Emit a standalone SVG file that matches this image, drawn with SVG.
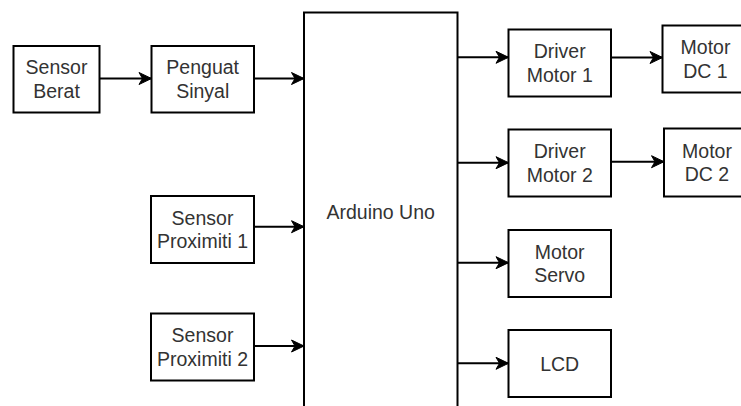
<svg xmlns="http://www.w3.org/2000/svg" width="741" height="406" viewBox="0 0 741 406">
<style>
.box{fill:#fff;stroke:#000;stroke-width:2}
.t{font-family:"Liberation Sans",Arial,sans-serif;font-size:19.5px;fill:#333;text-anchor:middle}
.c{stroke:#000;stroke-width:2;fill:none;marker-end:url(#arr)}
</style>
<defs>
<marker id="arr" markerUnits="userSpaceOnUse" markerWidth="15" markerHeight="14" refX="13.5" refY="7" orient="auto">
<path d="M1,1 L13.5,7 L1,13 L4.5,7 z" fill="#000" stroke="#000" stroke-width="1"/>
</marker>
</defs>
<rect width="741" height="406" fill="#fff"/>
<g id="arduino"><rect class="box" x="304" y="12.5" width="153.5" height="400"/><text class="t" x="380.7" y="218.7">Arduino Uno</text></g>
<g id="sensor-berat"><rect class="box" x="13.5" y="46" width="86" height="66.5"/><text class="t" x="56.5" y="74.4">Sensor</text><text class="t" x="56.5" y="98">Berat</text></g>
<g id="penguat-sinyal"><rect class="box" x="151.5" y="46" width="102.5" height="66.5"/><text class="t" x="202.7" y="74.4">Penguat</text><text class="t" x="202.7" y="98">Sinyal</text></g>
<g id="sensor-proximiti-1"><rect class="box" x="151" y="196" width="103" height="67"/><text class="t" x="202.5" y="224.6">Sensor</text><text class="t" x="202.5" y="248.2">Proximiti 1</text></g>
<g id="sensor-proximiti-2"><rect class="box" x="151" y="313.5" width="103" height="67"/><text class="t" x="202.5" y="342.1">Sensor</text><text class="t" x="202.5" y="365.7">Proximiti 2</text></g>
<g id="driver-motor-1"><rect class="box" x="508.5" y="29.5" width="102.5" height="67"/><text class="t" x="559.7" y="58.1">Driver</text><text class="t" x="559.7" y="81.7">Motor 1</text></g>
<g id="driver-motor-2"><rect class="box" x="508.5" y="129.5" width="102.5" height="67"/><text class="t" x="559.7" y="158.1">Driver</text><text class="t" x="559.7" y="181.7">Motor 2</text></g>
<g id="motor-dc-1"><rect class="box" x="662.5" y="25.5" width="86" height="67"/><text class="t" x="705.5" y="54.1">Motor</text><text class="t" x="705.5" y="77.7">DC 1</text></g>
<g id="motor-dc-2"><rect class="box" x="664" y="128.5" width="86" height="68"/><text class="t" x="707" y="157.6">Motor</text><text class="t" x="707" y="181.2">DC 2</text></g>
<g id="motor-servo"><rect class="box" x="508.5" y="230" width="102.5" height="67"/><text class="t" x="559.7" y="258.6">Motor</text><text class="t" x="559.7" y="282.2">Servo</text></g>
<g id="lcd"><rect class="box" x="508.5" y="330" width="102.5" height="67"/><text class="t" x="559.7" y="370.5">LCD</text></g>
<g id="connectors">
<line class="c" x1="99.5" y1="78.5" x2="151.5" y2="78.5"/>
<line class="c" x1="254" y1="78.5" x2="304" y2="78.5"/>
<line class="c" x1="254" y1="226.7" x2="304" y2="226.7"/>
<line class="c" x1="254" y1="346" x2="304" y2="346"/>
<line class="c" x1="457.5" y1="57.3" x2="508.5" y2="57.3"/>
<line class="c" x1="611" y1="57.5" x2="662.5" y2="57.5"/>
<line class="c" x1="457.5" y1="162.7" x2="508.5" y2="162.7"/>
<line class="c" x1="611" y1="161.7" x2="664" y2="161.7"/>
<line class="c" x1="457.5" y1="262.7" x2="508.5" y2="262.7"/>
<line class="c" x1="457.5" y1="363.3" x2="508.5" y2="363.3"/>
</g>
</svg>
